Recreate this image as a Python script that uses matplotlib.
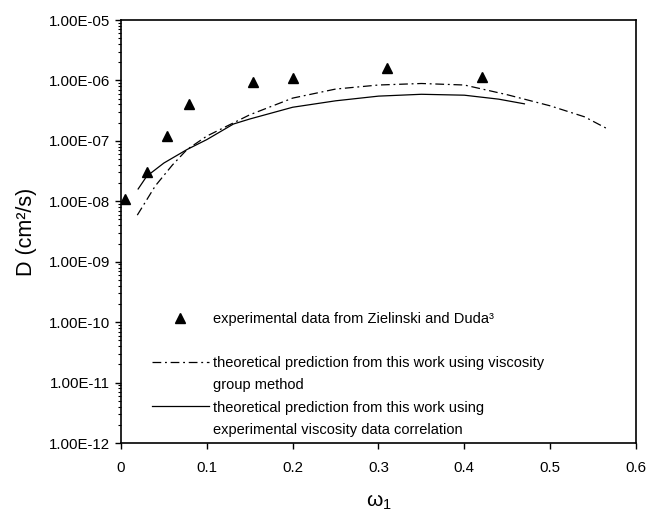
import matplotlib
matplotlib.use("Agg")
import matplotlib.pyplot as plt
from matplotlib.lines import Line2D
from matplotlib.ticker import FuncFormatter, LogLocator

plt.rcParams['font.family'] = ['Liberation Sans', 'DejaVu Sans']
plt.rcParams['mathtext.default'] = 'regular'

# experimental data (Zielinski and Duda)
exp_w = [0.005, 0.030, 0.054, 0.079, 0.154, 0.200, 0.310, 0.420]
exp_D = [1.1e-8, 3.0e-8, 1.2e-7, 4.1e-7, 9.4e-7, 1.1e-6, 1.6e-6, 1.15e-6]

# theory, viscosity group method
grp_w = [0.019, 0.04, 0.06, 0.077, 0.1, 0.15, 0.2, 0.25, 0.3, 0.35, 0.4, 0.45, 0.5, 0.54, 0.566]
grp_D = [5.9e-9, 1.8e-8, 4.0e-8, 7.2e-8, 1.2e-7, 2.7e-7, 5.1e-7, 7.2e-7, 8.4e-7, 8.9e-7,
         8.4e-7, 5.8e-7, 3.8e-7, 2.5e-7, 1.6e-7]

# theory, experimental viscosity data correlation
cor_w = [0.02, 0.03, 0.05, 0.077, 0.1, 0.131, 0.15, 0.2, 0.25, 0.3, 0.35, 0.4, 0.44, 0.47]
cor_D = [1.6e-8, 2.6e-8, 4.3e-8, 7.2e-8, 1.05e-7, 1.9e-7, 2.3e-7, 3.6e-7, 4.6e-7, 5.5e-7,
         5.9e-7, 5.7e-7, 4.9e-7, 4.1e-7]

labels = ['experimental data from Zielinski and Duda\u00b3',
          'theoretical prediction from this work using viscosity',
          'group method',
          'theoretical prediction from this work using',
          'experimental viscosity data correlation']

fig = plt.figure(figsize=(6.48, 5.17), dpi=100)
ax = fig.add_axes([0.1867, 0.1431, 0.7948, 0.8182])

dd = (7, 3, 1.5, 3)
ax.plot(exp_w, exp_D, linestyle='none', marker='^', color='black', ms=7.5)
ax.plot(grp_w, grp_D, color='black', lw=0.9, dashes=dd)
ax.plot(cor_w, cor_D, color='black', lw=0.9)

ax.set_yscale('log')
ax.set_xlim(0, 0.6)
ax.set_ylim(1e-12, 1e-5)
ax.set_xticks([0, 0.1, 0.2, 0.3, 0.4, 0.5, 0.6])
ax.set_xticklabels(['0', '0.1', '0.2', '0.3', '0.4', '0.5', '0.6'])
ax.yaxis.set_major_locator(LogLocator(base=10, numticks=10))
ax.yaxis.set_minor_locator(LogLocator(base=10, subs=range(2, 10), numticks=100))
ax.yaxis.set_major_formatter(FuncFormatter(lambda v, p: '%.2E' % v))

ax.tick_params(axis='both', which='major', direction='out', length=4, width=1,
               labelsize=10.8, colors='black')
ax.tick_params(axis='y', which='minor', direction='out', length=2.5, width=0.8)
ax.tick_params(axis='x', pad=9)
ax.tick_params(axis='y', pad=4)
for s in ax.spines.values():
    s.set_linewidth(1.2)

ax.set_ylabel('D (cm\u00b2/s)', fontsize=15.5, labelpad=8)
ax.set_xlabel('\u03c9$_1$', fontsize=15, labelpad=13)

blank = Line2D([], [], linestyle='none')
handles = [Line2D([], [], linestyle='none', marker='^', color='black', ms=7.5),
           blank,
           Line2D([], [], color='black', lw=0.9, dashes=dd),
           blank,
           Line2D([], [], color='black', lw=0.9),
           blank]
ax.legend(handles, [labels[0], ' ', labels[1], labels[2], labels[3], labels[4]],
          loc='upper left', bbox_to_anchor=(0.06, 0.31), frameon=False,
          fontsize=10.5, handlelength=3.9, handletextpad=0.3,
          labelspacing=0.56, borderpad=0, borderaxespad=0)

fig.savefig('out.png', dpi=100)
